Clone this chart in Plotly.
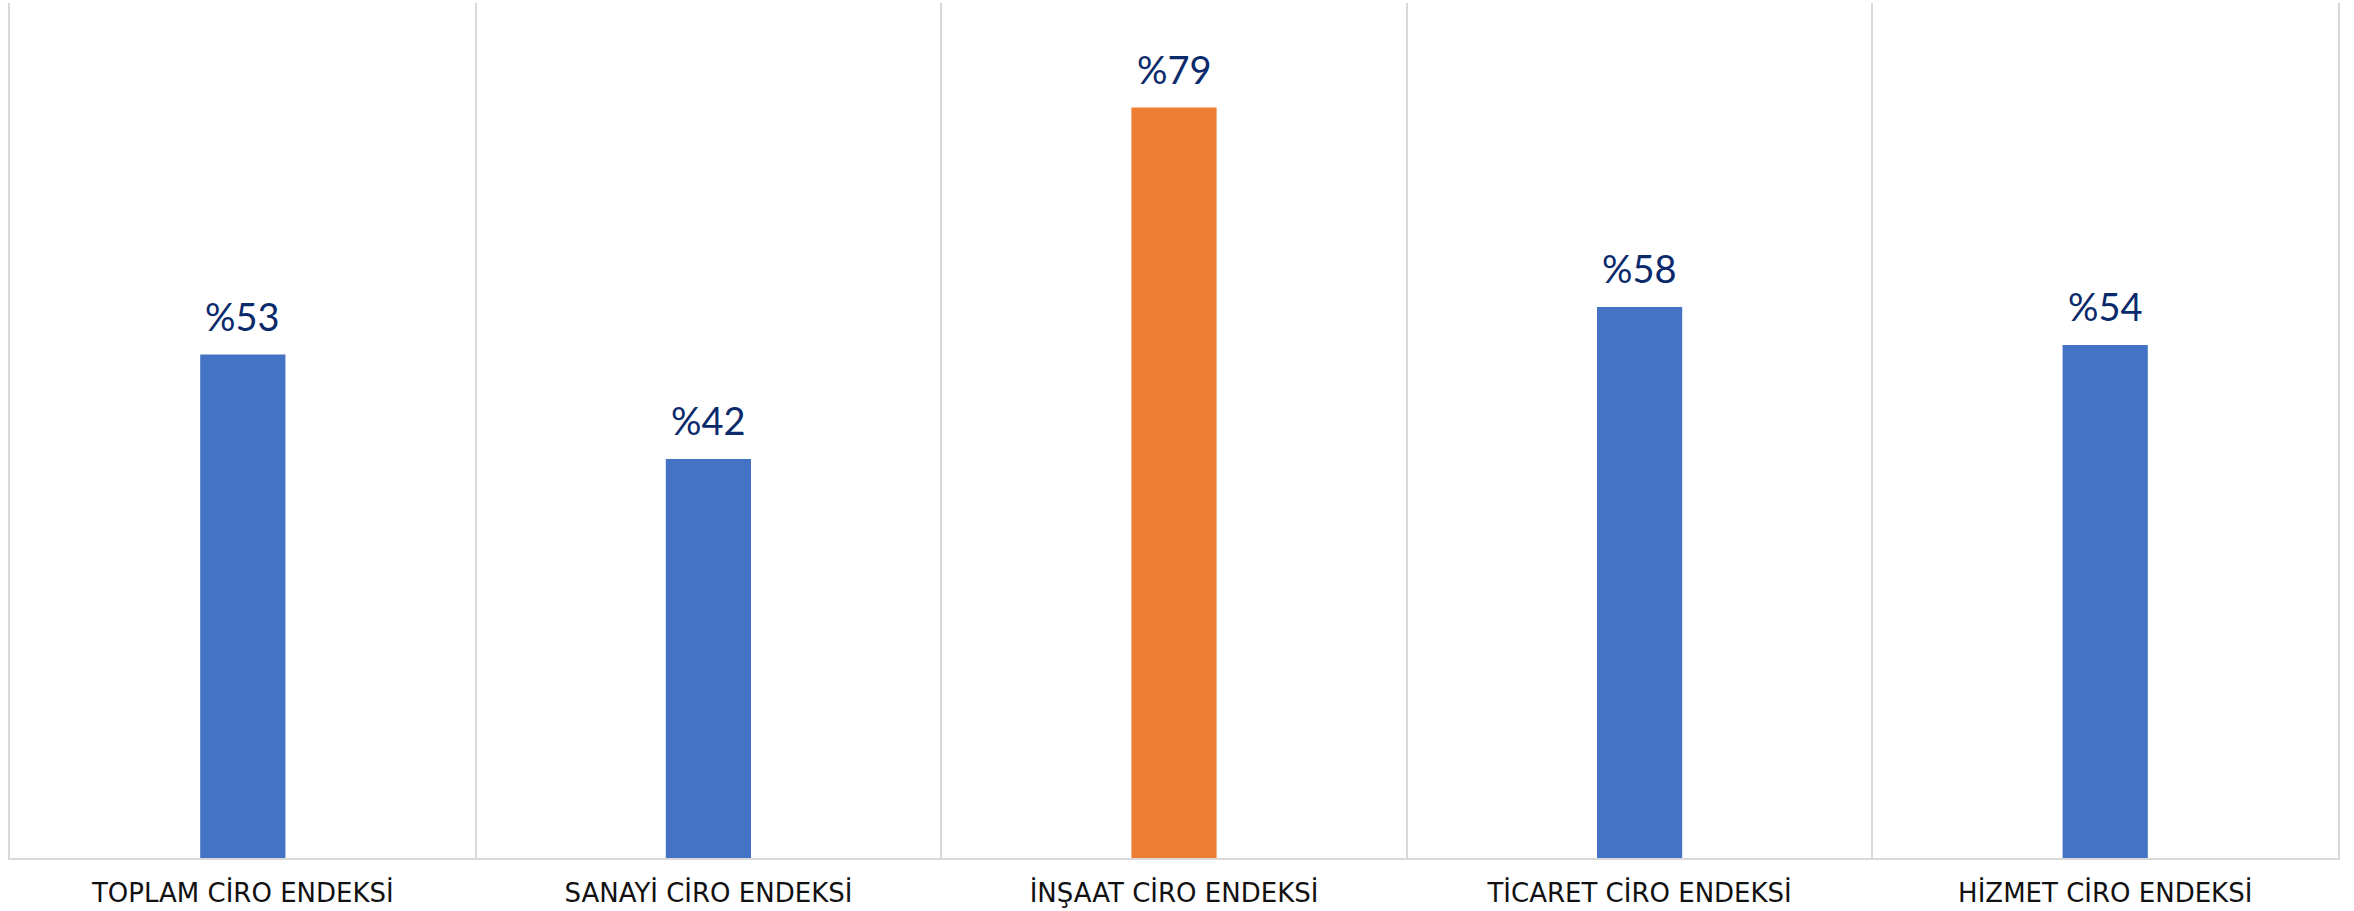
import plotly.graph_objects as go

categories = ["TOPLAM CİRO ENDEKSİ", "SANAYİ CİRO ENDEKSİ", "İNŞAAT CİRO ENDEKSİ",
              "TİCARET CİRO ENDEKSİ", "HİZMET CİRO ENDEKSİ"]
values = [53, 42, 79, 58, 54]
labels = ["%53", "%42", "%79", "%58", "%54"]
colors = ["#4472C4", "#4472C4", "#ED7D31", "#4472C4", "#4472C4"]

fig = go.Figure(go.Bar(
    x=categories, y=values,
    marker=dict(color=colors, line=dict(width=0)),
    hoverinfo="skip",
))

for c, v, t in zip(categories, values, labels):
    fig.add_annotation(x=c, y=v, text=t, showarrow=False, yanchor="bottom",
                       yshift=14, font=dict(family="Lato", size=38, color="#0B2A6B"))

fig.update_layout(
    width=2354, height=911,
    margin=dict(l=10, r=16, t=3, b=53),
    paper_bgcolor="white", plot_bgcolor="white",
    bargap=0.817, showlegend=False,
    xaxis=dict(type="category", tickson="boundaries", showgrid=True,
               gridcolor="#D9D9D9", gridwidth=2, ticks="",
               showline=True, linecolor="#D9D9D9", linewidth=2,
               tickfont=dict(family="DejaVu Sans", size=26, color="#111111"),
               ticklabelstandoff=11),
    yaxis=dict(range=[0, 90], showgrid=False, showticklabels=False, ticks="",
               zeroline=False, showline=True, mirror=True,
               linecolor="#D9D9D9", linewidth=2),
)

fig.write_html("out.html", config={"displayModeBar": False},
               post_script="document.body.style.margin='0';")
